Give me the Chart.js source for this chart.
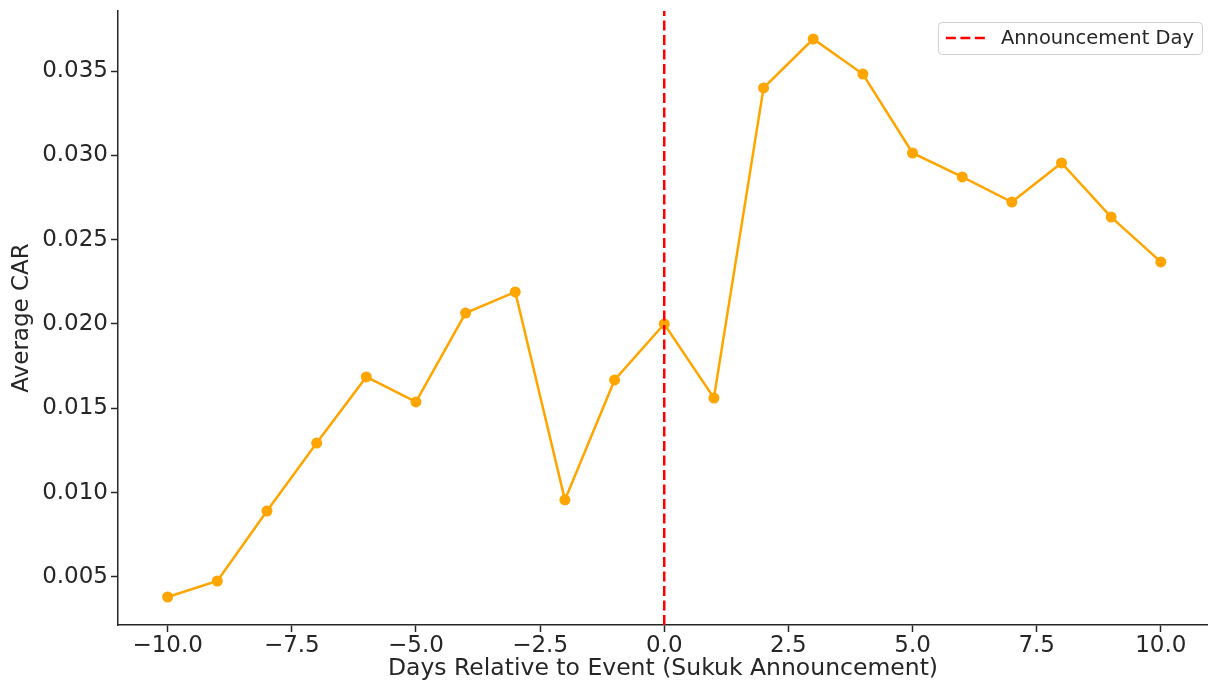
<!DOCTYPE html>
<html>
<head>
<meta charset="utf-8">
<script src="https://cdn.jsdelivr.net/npm/chart.js@4.4.1/dist/chart.umd.min.js"></script>
<style>
  html, body { margin: 0; padding: 0; background: #fff; }
  #wrap { width: 1208px; height: 684px; }
</style>
</head>
<body>
<div id="wrap"><canvas id="carChart" width="1208" height="684"></canvas></div>
<script>
// data
const days = [-10, -9, -8, -7, -6, -5, -4, -3, -2, -1, 0, 1, 2, 3, 4, 5, 6, 7, 8, 9, 10]
const avgCar = [0.00381, 0.00476, 0.00891, 0.01294, 0.01686, 0.01538, 0.02065, 0.0219, 0.00957, 0.01668, 0.0200,
  0.01561, 0.0340, 0.0369, 0.03482, 0.03014, 0.02872, 0.02723, 0.02955, 0.02634, 0.02368]
const announcementDay = 0
const xTicks = [-10, -7.5, -5, -2.5, 0, 2.5, 5, 7.5, 10]
const yTicks = [0.005, 0.010, 0.015, 0.020, 0.025, 0.030, 0.035]

// the reference view is cut a little on the right
const X_MIN = -11, X_MAX = 10.95
const Y_MIN = 0.00215, Y_MAX = 0.03856

const TEXT = '#262626'
const FONT = "'DejaVu Sans', sans-serif"

const fmtMinus = (v, d) => {
  const s = Math.abs(v).toFixed(d)
  return v < 0 ? '\u2212' + s : s
}

// legend drawn inside the plot, top right, like matplotlib
const insideLegend = {
  id: 'insideLegend',
  afterDraw(chart) {
    const { ctx, chartArea } = chart
    const items = chart.data.datasets.filter(d => d.inLegend)
    ctx.save()
    ctx.font = `19.5px ${FONT}`
    const lineW = 40, gap = 15, padX = 8, rowH = 32
    const textW = Math.max(...items.map(d => ctx.measureText(d.label).width))
    const w = padX + lineW + gap + textW + padX
    const h = rowH * items.length
    const x = chartArea.right - 6 - w
    const y = chartArea.top + 11
    ctx.beginPath()
    ctx.roundRect(x + 0.5, y + 0.5, w, h, 4)
    ctx.fillStyle = 'rgba(255,255,255,0.8)'
    ctx.fill()
    ctx.strokeStyle = '#d0d0d0'
    ctx.lineWidth = 1
    ctx.stroke()
    items.forEach((d, i) => {
      const cy = y + rowH / 2 + i * rowH
      ctx.beginPath()
      ctx.setLineDash(d.borderDash || [])
      ctx.strokeStyle = d.borderColor
      ctx.lineWidth = d.borderWidth
      ctx.moveTo(x + padX, cy)
      ctx.lineTo(x + padX + lineW, cy)
      ctx.stroke()
      ctx.setLineDash([])
      ctx.fillStyle = TEXT
      ctx.textBaseline = 'middle'
      ctx.fillText(d.label, x + padX + lineW + gap, cy + 1)
    })
    ctx.restore()
  }
}

const init = () => {
  const ctx = document.getElementById('carChart').getContext('2d')

  new Chart(ctx, {
    type: 'line',
    data: {
      datasets: [
        {
          label: 'Average CAR',
          data: days.map((d, i) => ({ x: d, y: avgCar[i] })),
          borderColor: '#ffa500',
          backgroundColor: '#ffa500',
          borderWidth: 2.5,
          pointRadius: 5.5,
          pointHoverRadius: 5.5,
          pointBorderWidth: 0,
          tension: 0,
          order: 2
        },
        {
          label: 'Announcement Day',
          inLegend: true,
          data: [{ x: announcementDay, y: Y_MIN }, { x: announcementDay, y: Y_MAX }],
          borderColor: '#ff0000',
          borderWidth: 2.5,
          borderDash: [10, 4.5],
          pointRadius: 0,
          order: 1
        }
      ]
    },
    options: {
      responsive: false,
      animation: false,
      layout: { autoPadding: false, padding: { left: 0, top: 11, right: 0, bottom: 0 } },
      plugins: {
        legend: { display: false },
        tooltip: { enabled: false }
      },
      scales: {
        x: {
          type: 'linear',
          min: X_MIN,
          max: X_MAX,
          afterBuildTicks: axis => { axis.ticks = xTicks.map(v => ({ value: v })) },
          afterFit: axis => {
            axis.height = 59
            axis.paddingLeft = 0
            axis.paddingRight = 0
          },
          grid: { drawOnChartArea: false, drawTicks: true, tickLength: 7, color: TEXT, tickWidth: 1.5 },
          border: { display: true, color: TEXT, width: 1.5 },
          ticks: {
            color: TEXT,
            font: { family: FONT, size: 23 },
            padding: 0,
            maxRotation: 0,
            callback: v => fmtMinus(v, 1)
          },
          title: {
            display: true,
            text: 'Days Relative to Event (Sukuk Announcement)',
            color: TEXT,
            font: { family: FONT, size: 23.5 },
            padding: { top: 0, bottom: 1 }
          }
        },
        y: {
          type: 'linear',
          min: Y_MIN,
          max: Y_MAX,
          afterBuildTicks: axis => { axis.ticks = yTicks.map(v => ({ value: v })) },
          afterFit: axis => {
            axis.width = 118
            axis.paddingTop = 0
            axis.paddingBottom = 0
          },
          grid: { drawOnChartArea: false, drawTicks: true, tickLength: 7, color: TEXT, tickWidth: 1.5 },
          border: { display: true, color: TEXT, width: 1.5 },
          ticks: {
            color: TEXT,
            font: { family: FONT, size: 23 },
            padding: 3,
            callback: v => v.toFixed(3)
          },
          title: {
            display: true,
            text: 'Average CAR',
            color: TEXT,
            font: { family: FONT, size: 23 },
            padding: { top: 8, bottom: 0 }
          }
        }
      }
    },
    plugins: [insideLegend]
  })
}

init()
</script>
</body>
</html>
